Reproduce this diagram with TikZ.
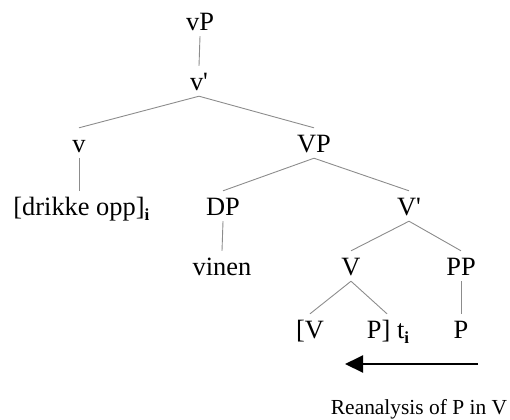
\documentclass[tikz,border=0pt]{standalone}
\usepackage{fontspec}
\setmainfont{Liberation Serif}
\usetikzlibrary{arrows.meta}
\newcommand{\subi}{\raisebox{-5bp}{\fontsize{17}{17}\selectfont\textbf{i}}}

\begin{document}
\begin{tikzpicture}[x=1bp,y=-1bp,
		lab/.style={anchor=base,inner xsep=2bp,inner ysep=6bp,text height=18bp,text depth=0bp,font=\fontsize{26.5}{30}\selectfont},
		branch/.style={draw=black!45,line width=0.9bp}]
		\useasboundingbox (0,0) rectangle (510,419);
		\node[lab] (vP) at (200,30) {vP};
		\node[lab] (vbar) at (199,90) {v\textquotesingle};
		\node[lab] (v) at (79,152) {v};
		\node[lab] (VP) at (314,152) {VP};
		\node[lab] (drikke) at (79,215) {[drikke opp]\rlap{\subi}};
		\node[lab] (DP) at (223,215) {DP};
		\node[lab] (Vbar) at (409,215) {V\textquotesingle};
		\node[lab] (vinen) at (222,275) {vinen};
		\node[lab] (V) at (351,275) {V};
		\node[lab] (PP) at (461,275) {PP};
		\node[lab] (Vb) at (310,338) {[V};
		\node[lab] (Pt) at (388,338) {P] t\subi};
		\node[lab] (P) at (461,338) {P};
		\draw[branch] (vP.south) -- (vbar.north);
		\draw[branch] (vbar.south) -- (v.north);
		\draw[branch] (vbar.south) -- (VP.north);
		\draw[branch] (v.south) -- (drikke.north);
		\draw[branch] (VP.south) -- (DP.north);
		\draw[branch] (VP.south) -- (Vbar.north);
		\draw[branch] (DP.south) -- (vinen.north);
		\draw[branch] (Vbar.south) -- (V.north);
		\draw[branch] (Vbar.south) -- (PP.north);
		\draw[branch] (V.south) -- (Vb.north);
		\draw[branch] (V.south) -- ([xshift=-1bp]Pt.north);
		\draw[branch] (PP.south) -- (P.north);
		% reanalysis arrow
		\coordinate (from) at (478,364);
		\coordinate (to) at (345,364);
		\draw[line width=2bp,-{Triangle[length=18bp,width=17bp]}] (from) -- (to);
		\node[anchor=base,inner sep=0pt,font=\fontsize{21.5}{26}\selectfont] (reanalysis) at (419,414) {Reanalysis of P in V};
\end{tikzpicture}
\end{document}
